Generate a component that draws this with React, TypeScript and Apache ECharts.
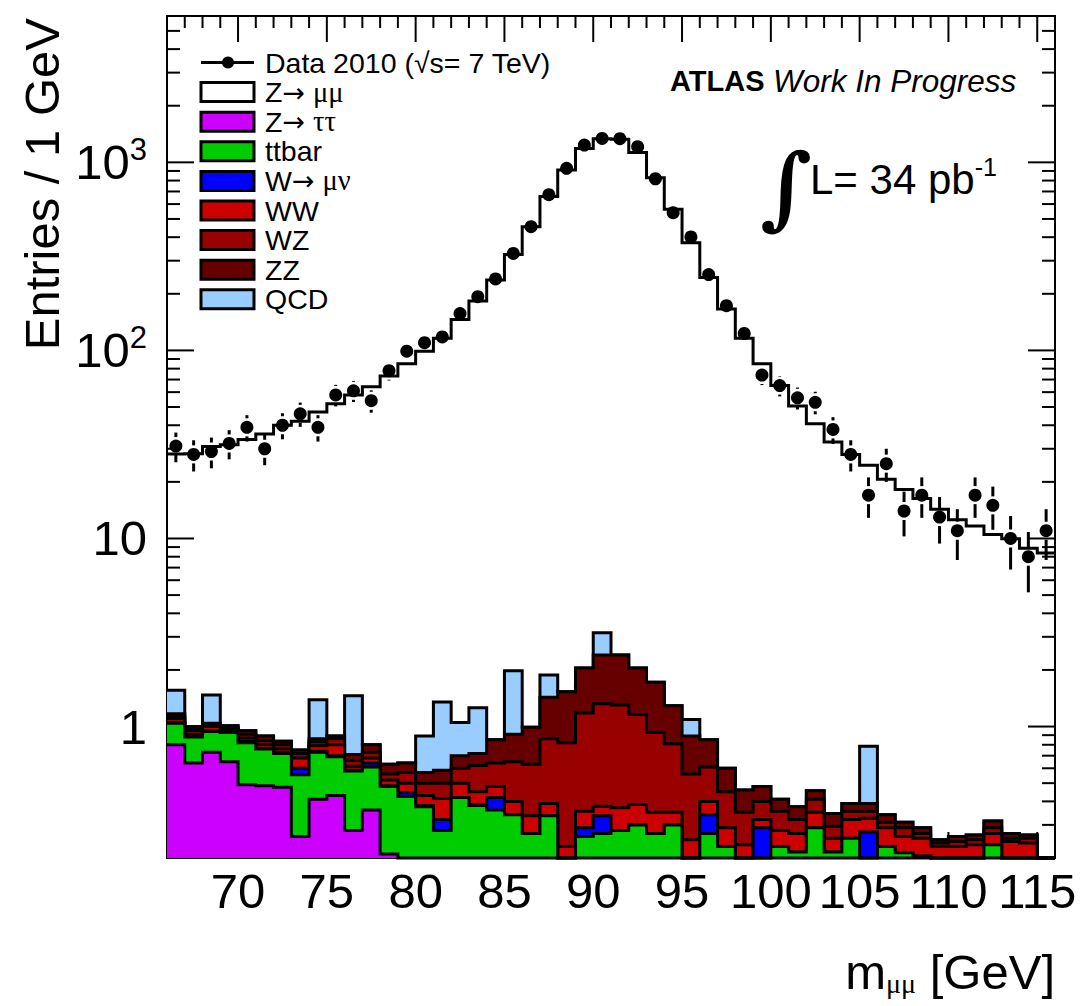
import React, { useEffect, useRef } from "react";
import * as echarts from "echarts";

// ---- bins (1 GeV) ----
const binEdges = [66, 67, 68, 69, 70, 71, 72, 73, 74, 75, 76, 77, 78, 79, 80, 81, 82, 83, 84, 85, 86, 87, 88, 89, 90, 91, 92, 93, 94, 95, 96, 97, 98, 99, 100, 101, 102, 103, 104, 105, 106, 107, 108, 109, 110, 111, 112, 113, 114, 115, 116];

// ---- data 2010 (entries per bin) ----
const dataCounts = [31, 28, 29, 32, 39, 30, 40, 46, 39, 58, 61, 54, 78, 99, 110, 118, 157, 193, 240, 328, 455, 673, 929, 1236, 1340, 1335, 1211, 818, 540, 401, 253, 173, 123, 74, 65, 56, 53, 38, 28, 17, 25, 14, 17, 13, 11, 17, 15, 10, 8, 11];

// ---- MC components ----
const zmumu = [26.6, 27.2, 29.4, 30.5, 32.6, 35.1, 39.2, 41.2, 45.6, 51.1, 56.5, 63.2, 72.4, 84.4, 98.1, 114.6, 145, 181.7, 236, 322, 454, 656, 909, 1181, 1333, 1323, 1125, 827, 561, 373, 243, 165.4, 115.5, 84.5, 64.6, 50.2, 40.3, 32.2, 27.6, 23.7, 20.3, 17.9, 16.0, 14.05, 12.3, 11.4, 10.2, 9.7, 8.6, 8.2];
const ztautau = [0.80, 0.64, 0.73, 0.65, 0.49, 0.485, 0.475, 0.26, 0.41, 0.43, 0.28, 0.36, 0.21, 0.15, 0.12, 0.10, 0.09, 0.08, 0.07, 0.06, 0.06, 0.05, 0.05, 0.05, 0.05, 0.05, 0.05, 0.05, 0.05, 0.05, 0.04, 0.04, 0.04, 0.04, 0.04, 0.04, 0.03, 0.03, 0.03, 0.03, 0.03, 0.03, 0.03, 0.03, 0.02, 0.02, 0.02, 0.02, 0.02, 0.02];
const ttbar = [0.24, 0.24, 0.21, 0.28, 0.33, 0.275, 0.245, 0.295, 0.32, 0.26, 0.30, 0.25, 0.27, 0.275, 0.255, 0.18, 0.33, 0.30, 0.29, 0.28, 0.21, 0.285, 0.07, 0.21, 0.22, 0.23, 0.25, 0.22, 0.25, 0.07, 0.23, 0.19, 0.08, 0.06, 0.19, 0.175, 0.26, 0.185, 0.225, 0.07, 0.20, 0.183, 0.175, 0.07, 0.08, 0.08, 0.215, 0.08, 0.08, 0.04];
const wmunu = [0.01, 0.03, 0.01, 0.01, 0.015, 0.005, 0.005, 0.045, 0.01, 0.01, 0.005, 0.03, 0.005, 0.02, 0.005, 0.04, 0, 0.005, 0.06, 0, 0, 0, 0, 0.03, 0.065, 0, 0, 0, 0, 0, 0.07, 0, 0, 0.19, 0, 0, 0, 0, 0, 0.175, 0, 0, 0, 0, 0, 0, 0, 0, 0, 0];
const ww = [0.05, 0.04, 0.05, 0.03, 0.035, 0.035, 0.035, 0.08, 0.05, 0.10, 0.03, 0.04, 0.035, 0.055, 0.05, 0.095, 0.08, 0.065, 0.06, 0.06, 0.065, 0.055, 0.11, 0.065, 0.042, 0.09, 0.085, 0.08, 0.05, 0.13, 0.06, 0.06, 0.115, 0.03, 0.05, 0.055, 0.06, 0.04, 0.065, 0.05, 0.06, 0.047, 0.05, 0.13, 0.13, 0.135, 0.035, 0.145, 0.14, 0.06];
const wz = [0.03, 0.02, 0.02, 0.02, 0.04, 0.04, 0.04, 0.04, 0.04, 0.06, 0.045, 0.05, 0.04, 0.07, 0.07, 0.085, 0.10, 0.17, 0.16, 0.25, 0.295, 0.47, 0.59, 0.825, 0.943, 0.93, 0.775, 0.58, 0.46, 0.31, 0.21, 0.16, 0.115, 0.08, 0.075, 0.05, 0.06, 0.04, 0.035, 0.03, 0.02, 0.03, 0.015, 0.01, 0.015, 0.015, 0.02, 0.01, 0.015, 0.02];
const zz = [0.04, 0.03, 0.02, 0.02, 0.04, 0.05, 0.035, 0.03, 0.03, 0.03, 0.05, 0.07, 0.07, 0.07, 0.07, 0.085, 0.10, 0.10, 0.21, 0.26, 0.36, 0.57, 0.71, 0.87, 1.08, 1.10, 0.89, 0.79, 0.48, 0.33, 0.24, 0.15, 0.11, 0.08, 0.055, 0.055, 0.045, 0.05, 0.035, 0.035, 0.03, 0.02, 0.02, 0.01, 0.015, 0.015, 0.025, 0.015, 0.01, 0.02];
const qcd = [0.39, 0, 0.43, 0, 0, 0, 0, 0, 0.53, 0, 0.75, 0, 0, 0, 0.32, 0.765, 0.35, 0.54, 0, 1.07, 0, 0.45, 0, 0, 0.75, 0, 0, 0, 0, 0.20, 0, 0, 0, 0, 0, 0, 0, 0, 0, 0.395, 0, 0, 0, 0, 0, 0, 0, 0, 0, 0];

// ---- axis ticks ----
const xTickValues = [66, 67, 68, 69, 70, 71, 72, 73, 74, 75, 76, 77, 78, 79, 80, 81, 82, 83, 84, 85, 86, 87, 88, 89, 90, 91, 92, 93, 94, 95, 96, 97, 98, 99, 100, 101, 102, 103, 104, 105, 106, 107, 108, 109, 110, 111, 112, 113, 114, 115, 116];
const xLabelValues = [70, 75, 80, 85, 90, 95, 100, 105, 110, 115];
const yMajorTicks = [1, 10, 100, 1000];
const yMinorTicks = [0.3, 0.4, 0.5, 0.6, 0.7, 0.8, 0.9, 2, 3, 4, 5, 6, 7, 8, 9, 20, 30, 40, 50, 60, 70, 80, 90, 200, 300, 400, 500, 600, 700, 800, 900, 2000, 3000, 4000, 5000];

const X_MIN = 66;
const X_MAX = 116;
const Y_MIN = 0.2;
const Y_MAX = 6000;

// stacking order, bottom to top
const stackComponents = [ztautau, ttbar, wmunu, ww, wz, zz, qcd, zmumu];
const stackColors = ["#cc00ff", "#00cc00", "#0000ff", "#cc0000", "#990000", "#660000", "#99ccff", null];

const legendItems = [
  { text: "Z{ar|→} {gr|μμ}", color: "#ffffff" },
  { text: "Z{ar|→} {gr|ττ}", color: "#cc00ff" },
  { text: "ttbar", color: "#00cc00" },
  { text: "W{ar|→} {gr|μν}", color: "#0000ff" },
  { text: "WW", color: "#cc0000" },
  { text: "WZ", color: "#990000" },
  { text: "ZZ", color: "#660000" },
  { text: "QCD", color: "#99ccff" },
];

const SANS = '"Liberation Sans", Arial, Helvetica, sans-serif';
const SERIF = '"Liberation Serif", "DejaVu Serif", serif';

export default function App() {
  const ref = useRef<HTMLDivElement>(null);

  useEffect(() => {
    const chart = echarts.init(ref.current!, null, { renderer: "svg" });

    // cumulative stack sums
    const cumulative: number[][] = [];
    stackComponents.forEach((comp, k) => {
      cumulative.push(comp.map((v, i) => v + (k > 0 ? cumulative[k - 1][i] : 0)));
    });

    const histRender = (cum: number[], fill: string | null) => (params: any, api: any) => {
      const c = (x: number, y: number) => api.coord([x, Math.max(y, Y_MIN)]);
      const top: number[][] = [];
      for (let i = 0; i < cum.length; i++) {
        top.push(c(binEdges[i], cum[i]));
        top.push(c(binEdges[i + 1], cum[i]));
      }
      const children: any[] = [];
      if (fill) {
        children.push({
          type: "polygon",
          shape: { points: [c(binEdges[0], Y_MIN), ...top, c(binEdges[binEdges.length - 1], Y_MIN)] },
          style: { fill, stroke: "none" },
        });
      }
      children.push({
        type: "polyline",
        shape: { points: top },
        style: { fill: "none", stroke: "#000", lineWidth: 3 },
      });
      return { type: "group", children };
    };

    const histSeries: any[] = [];
    for (let k = stackComponents.length - 1; k >= 0; k--) {
      histSeries.push({
        type: "custom",
        z: 2,
        silent: true,
        data: [[X_MIN, 1]],
        encode: { x: 0, y: 1 },
        renderItem: histRender(cumulative[k], stackColors[k]),
      });
    }

    const ticksSeries = {
      type: "custom",
      z: 1,
      silent: true,
      data: [[X_MIN, 1]],
      encode: { x: 0, y: 1 },
      renderItem: (params: any, api: any) => {
        const [xl, yb] = api.coord([X_MIN, Y_MIN]);
        const [xr, yt] = api.coord([X_MAX, Y_MAX]);
        const lines: any[] = [];
        const st = { stroke: "#000", lineWidth: 2 };
        xTickValues.forEach((v) => {
          const len = xLabelValues.indexOf(v) >= 0 ? 26 : 12;
          const px = api.coord([v, Y_MIN])[0];
          lines.push({ type: "line", shape: { x1: px, y1: yb, x2: px, y2: yb - len }, style: st });
          lines.push({ type: "line", shape: { x1: px, y1: yt, x2: px, y2: yt + len }, style: st });
        });
        const yt2 = (v: number, len: number) => {
          const py = api.coord([X_MIN, v])[1];
          lines.push({ type: "line", shape: { x1: xl, y1: py, x2: xl + len, y2: py }, style: st });
          lines.push({ type: "line", shape: { x1: xr, y1: py, x2: xr - len, y2: py }, style: st });
        };
        yMajorTicks.forEach((v) => yt2(v, 27));
        yMinorTicks.forEach((v) => yt2(v, 13));
        return { type: "group", children: lines };
      },
    };

    const centers = dataCounts.map((_, i) => (binEdges[i] + binEdges[i + 1]) / 2);
    // Poisson uncertainty of each count
    const errData = dataCounts.map((n, i) => [centers[i], n, Math.sqrt(n)]);

    const errSeries = {
      type: "custom",
      z: 4,
      silent: true,
      data: errData,
      encode: { x: 0, y: 1 },
      renderItem: (params: any, api: any) => {
        const x = api.value(0);
        const y = api.value(1);
        const e = api.value(2);
        const p = api.coord([x, y]);
        const hi = api.coord([x, y + e]);
        const lo = api.coord([x, Math.max(y - e, Y_MIN)]);
        const gap = 9;
        const ch: any[] = [];
        const st = { stroke: "#000", lineWidth: 3 };
        if (p[1] - gap > hi[1]) ch.push({ type: "line", shape: { x1: p[0], y1: hi[1], x2: p[0], y2: p[1] - gap }, style: st });
        if (lo[1] > p[1] + gap) ch.push({ type: "line", shape: { x1: p[0], y1: p[1] + gap, x2: p[0], y2: lo[1] }, style: st });
        return { type: "group", children: ch };
      },
    };

    const dataSeries = {
      type: "scatter",
      z: 5,
      silent: true,
      symbol: "circle",
      symbolSize: 13,
      itemStyle: { color: "#000", opacity: 1 },
      data: dataCounts.map((n, i) => [centers[i], n]),
    };

    // legend graphics
    const legendEls: any[] = [];
    const rowY0 = 62.5;
    const rowDy = 29.6;
    const LH = 26;
    const FS = 28.5;
    legendEls.push({ type: "line", z: 100, shape: { x1: 201, y1: rowY0, x2: 254, y2: rowY0 }, style: { stroke: "#000", lineWidth: 3 } });
    legendEls.push({ type: "circle", z: 100, shape: { cx: 228, cy: rowY0, r: 6 }, style: { fill: "#000" } });
    legendEls.push({
      type: "text", z: 100, x: 265, y: rowY0,
      style: { text: "Data 2010 (√s= 7 TeV)", fontSize: FS, lineHeight: LH, fontFamily: SANS, fill: "#000", align: "left", verticalAlign: "middle" },
    });
    legendItems.forEach((it, k) => {
      const cy = rowY0 + rowDy * (k + 1);
      legendEls.push({ type: "rect", z: 100, shape: { x: 201, y: cy - 9.5, width: 53, height: 19 }, style: { fill: it.color, stroke: "#000", lineWidth: 3 } });
      legendEls.push({
        type: "text", z: 100, x: 265, y: cy,
        style: {
          text: it.text, fontSize: FS, lineHeight: LH, fontFamily: SANS, fill: "#000", align: "left", verticalAlign: "middle",
          rich: {
            ar: { fontSize: 27, lineHeight: LH, fontFamily: '"DejaVu Sans", sans-serif', fill: "#000" },
            gr: { fontSize: 28.5, lineHeight: LH, fontFamily: SERIF, fill: "#000" },
          },
        },
      });
    });

    const graphicEls: any[] = [
      ...legendEls,
      {
        type: "text", z: 100, x: 670, y: 81,
        style: { text: "ATLAS", fontSize: 29, fontWeight: "bold", fontFamily: SANS, fill: "#000", align: "left", verticalAlign: "middle" },
      },
      {
        type: "text", z: 100, x: 773, y: 81,
        style: { text: "Work In Progress", fontSize: 31.5, fontStyle: "italic", fontFamily: SANS, fill: "#000", align: "left", verticalAlign: "middle" },
      },
      {
        type: "text", z: 100, x: 786, y: 186,
        style: { text: "∫", fontSize: 90, fontWeight: "bold", fontFamily: '"DejaVu Serif", serif', fill: "#000", align: "center", verticalAlign: "middle" },
      },
      {
        type: "text", z: 100, x: 810, y: 179,
        style: {
          text: "L= 34 pb{sup|-1}", fontSize: 42, fontFamily: SANS, fill: "#000", align: "left", verticalAlign: "middle", lineHeight: 50,
          rich: { sup: { fontSize: 25, fontFamily: SANS, fill: "#000", verticalAlign: "top", lineHeight: 25 } },
        },
      },
      {
        type: "text", z: 100, x: 42, y: 18, rotation: Math.PI / 2,
        style: { text: "Entries / 1 GeV", fontSize: 49, fontFamily: SANS, fill: "#000", align: "right", verticalAlign: "middle" },
      },
      {
        type: "text", z: 100, x: 1055, y: 972,
        style: {
          text: "m{sub|μμ} [GeV]", fontSize: 49, fontFamily: SANS, fill: "#000", align: "right", verticalAlign: "middle", lineHeight: 50,
          rich: { sub: { fontSize: 28, fontFamily: SERIF, fill: "#000", verticalAlign: "bottom", lineHeight: 14 } },
        },
      },
    ];

    const option: any = {
      animation: false,
      backgroundColor: "#ffffff",
      textStyle: { fontFamily: SANS },
      grid: {
        left: 167, right: 28, top: 16, bottom: 148,
        show: true, borderColor: "#000", borderWidth: 2, backgroundColor: "transparent",
        containLabel: false, outerBoundsMode: "none",
      },
      xAxis: {
        type: "value", min: X_MIN, max: X_MAX,
        axisLine: { show: false }, axisTick: { show: false }, splitLine: { show: false },
        axisLabel: { customValues: xLabelValues, fontSize: 49, color: "#000", fontFamily: SANS, margin: 8 },
      },
      yAxis: {
        type: "log", logBase: 10, min: Y_MIN, max: Y_MAX,
        axisLine: { show: false }, axisTick: { show: false }, splitLine: { show: false },
        axisLabel: {
          fontSize: 49, color: "#000", fontFamily: SANS, margin: 20, lineHeight: 56,
          formatter: (v: number) => {
            const l = Math.log10(v);
            const e = Math.round(l);
            if (Math.abs(l - e) > 1e-6 || e < 0) return "";
            if (e === 0) return "1";
            if (e === 1) return "10";
            return "10{sup|" + e + "}";
          },
          rich: { sup: { fontSize: 31, color: "#000", fontFamily: SANS, verticalAlign: "top", lineHeight: 30 } },
        },
      },
      graphic: { elements: graphicEls },
      series: [ticksSeries, ...histSeries, errSeries, dataSeries],
    };

    chart.setOption(option);
    return () => chart.dispose();
  }, []);

  return <div ref={ref} style={{ position: "absolute", left: 0, top: 0, width: 1083, height: 1006 }} />;
}
